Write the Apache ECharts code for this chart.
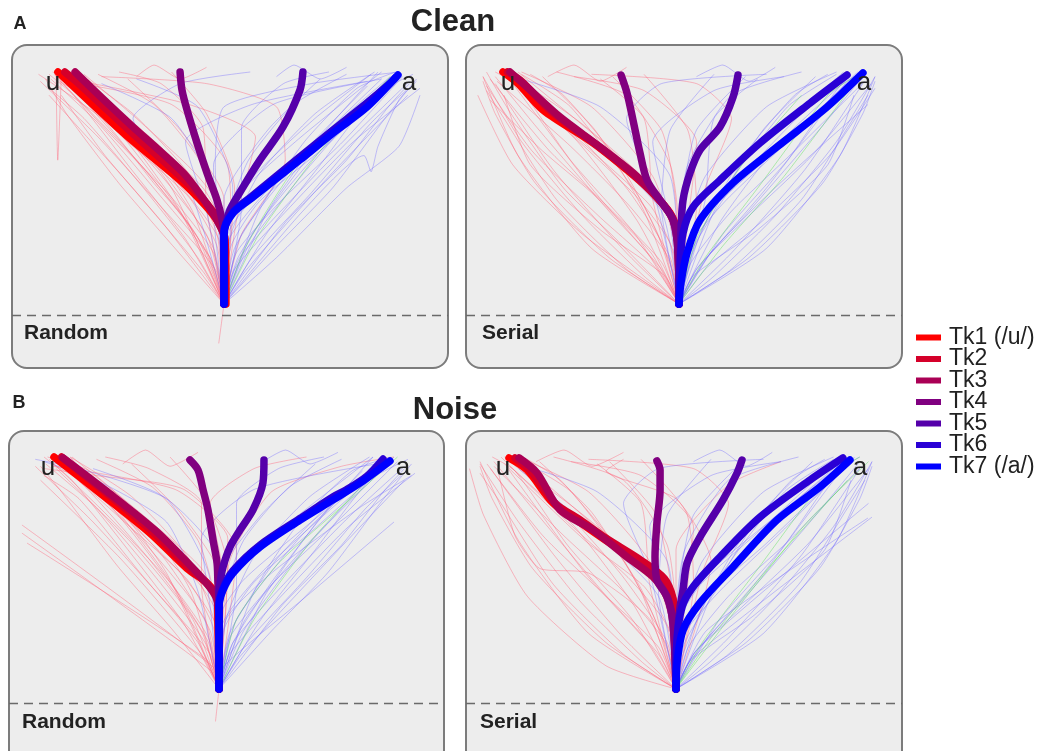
<!DOCTYPE html>
<html>
<head>
<meta charset="utf-8">
<script src="https://cdn.jsdelivr.net/npm/echarts@6/dist/echarts.min.js"></script>
<style>
  html, body { margin: 0; padding: 0; background: #ffffff; }
  #chart { width: 1037px; height: 751px; }
</style>
</head>
<body>
<div id="chart"></div>
<script>
// ---- labels ----
const tokenNames = ['Tk1 (/u/)', 'Tk2', 'Tk3', 'Tk4', 'Tk5', 'Tk6', 'Tk7 (/a/)'];
const tokenColors = ['#ff0000', '#d5002a', '#aa0055', '#800080', '#5500aa', '#2a00d5', '#0000ff'];
const blockTitles = ['Clean', 'Noise'];
const blockLetters = ['A', 'B'];
const conditionNames = ['Random', 'Serial', 'Random', 'Serial'];
const targetLabels = ['u', 'a'];

// ---- mean trajectories per token (x: -1 = /u/, +1 = /a/; y: 0 = start, 1 = target height) ----
const cleanRandomMeans = [
  [[0.011,0],[0.006,0.276],[-0.034,0.353],[-0.109,0.427],[-0.251,0.534],[-0.56,0.728],[-0.851,0.931],[-0.949,1.0]],
  [[0.006,0],[0.003,0.29],[-0.03,0.36],[-0.1,0.435],[-0.235,0.54],[-0.53,0.74],[-0.83,0.95],[-0.91,1.0]],
  [[0,0],[0,0.29],[-0.011,0.319],[-0.063,0.392],[-0.211,0.547],[-0.36,0.655],[-0.52,0.763],[-0.7,0.89],[-0.851,1.0]],
  [[0,0],[0,0.297],[-0.011,0.362],[-0.04,0.448],[-0.097,0.565],[-0.154,0.694],[-0.211,0.836],[-0.24,0.922],[-0.251,1.0]],
  [[0,0],[0,0.3],[0.006,0.332],[0.034,0.405],[0.109,0.504],[0.206,0.621],[0.337,0.763],[0.434,0.922],[0.451,1.0]],
  [[0,0],[0,0.31],[0.05,0.395],[0.165,0.468],[0.43,0.632],[0.62,0.748],[0.81,0.862],[0.95,0.952],[0.98,0.975]],
  [[0,0],[0,0.306],[0.051,0.392],[0.166,0.461],[0.434,0.621],[0.623,0.737],[0.817,0.849],[0.994,0.987]]
];
const cleanSerialMeans = [
  [[0,0],[-0.011,0.306],[-0.051,0.392],[-0.166,0.491],[-0.297,0.578],[-0.491,0.694],[-0.777,0.836],[-0.92,0.95],[-1.006,1.0]],
  [[0,0],[-0.008,0.28],[-0.045,0.38],[-0.14,0.47],[-0.28,0.57],[-0.47,0.685],[-0.73,0.83],[-0.9,0.96],[-0.98,1.0]],
  [[0,0],[-0.006,0.233],[-0.034,0.362],[-0.109,0.448],[-0.263,0.565],[-0.451,0.677],[-0.68,0.806],[-0.869,0.935],[-0.966,1.0]],
  [[0,0],[-0.006,0.233],[-0.034,0.362],[-0.109,0.448],[-0.183,0.534],[-0.223,0.651],[-0.263,0.793],[-0.297,0.909],[-0.331,0.987]],
  [[0,0],[0.011,0.306],[0.023,0.448],[0.063,0.565],[0.12,0.664],[0.234,0.763],[0.309,0.892],[0.337,0.987]],
  [[0,0],[0.006,0.159],[0.023,0.306],[0.08,0.418],[0.234,0.534],[0.463,0.694],[0.749,0.866],[0.96,0.987]],
  [[0,0],[0.011,0.091],[0.046,0.22],[0.12,0.362],[0.309,0.522],[0.56,0.677],[0.846,0.849],[1.051,0.996]]
];
const noiseRandomMeans = [
  [[0,0],[-0.006,0.31],[-0.011,0.397],[-0.069,0.457],[-0.183,0.52],[-0.394,0.672],[-0.68,0.845],[-0.943,1.0]],
  [[0,0],[-0.004,0.3],[-0.01,0.39],[-0.065,0.452],[-0.175,0.525],[-0.38,0.678],[-0.66,0.855],[-0.9,1.0]],
  [[0,0],[0,0.297],[-0.011,0.384],[-0.063,0.448],[-0.166,0.534],[-0.366,0.685],[-0.651,0.858],[-0.891,0.996]],
  [[0,0],[0,0.384],[-0.006,0.457],[-0.011,0.543],[-0.034,0.642],[-0.063,0.772],[-0.091,0.858],[-0.12,0.944],[-0.166,0.987]],
  [[0,0],[0,0.4],[0.006,0.457],[0.023,0.526],[0.063,0.612],[0.12,0.685],[0.194,0.772],[0.251,0.888],[0.257,0.987]],
  [[0,0],[0,0.36],[0.023,0.435],[0.08,0.51],[0.234,0.62],[0.463,0.735],[0.651,0.828],[0.731,0.86],[0.846,0.918],[0.937,0.991]],
  [[0,0],[0,0.353],[0.023,0.427],[0.08,0.5],[0.234,0.612],[0.463,0.728],[0.651,0.815],[0.806,0.888],[0.977,0.983]]
];
const noiseSerialMeans = [
  [[0,0],[-0.006,0.284],[-0.017,0.384],[-0.074,0.47],[-0.189,0.543],[-0.377,0.629],[-0.566,0.728],[-0.703,0.802],[-0.851,0.944],[-0.954,0.996]],
  [[0,0],[-0.006,0.284],[-0.017,0.39],[-0.065,0.475],[-0.2,0.555],[-0.4,0.65],[-0.55,0.73],[-0.69,0.8],[-0.83,0.94],[-0.92,0.996]],
  [[0,0],[-0.017,0.284],[-0.051,0.397],[-0.131,0.483],[-0.28,0.569],[-0.474,0.685],[-0.663,0.772],[-0.794,0.931],[-0.897,0.996]],
  [[0,0],[-0.017,0.284],[-0.051,0.397],[-0.109,0.47],[-0.12,0.569],[-0.109,0.716],[-0.091,0.858],[-0.091,0.944],[-0.109,0.983]],
  [[0,0],[0.006,0.211],[0.023,0.353],[0.04,0.427],[0.063,0.543],[0.137,0.655],[0.269,0.815],[0.349,0.931],[0.377,0.987]],
  [[0,0],[0.006,0.211],[0.034,0.353],[0.097,0.44],[0.251,0.569],[0.48,0.741],[0.766,0.901],[0.954,0.996]],
  [[0,0],[0.006,0.112],[0.04,0.254],[0.137,0.371],[0.326,0.526],[0.577,0.728],[0.823,0.871],[0.994,0.987]]
];

// ---- individual trials (g: r = /u/-side tokens, b = /a/-side tokens, g = middle token) ----
const cleanRandomTrials = [
  {g:'r', p:[[0,0],[-0.03,-0.17]]},
  {g:'r', p:[[0,0],[-0.12,0.25],[-0.42,0.55],[-0.78,0.86],[-0.96,1.0]]},
  {g:'r', p:[[0,0],[-0.08,0.2],[-0.3,0.45],[-0.62,0.76],[-0.9,0.98]]},
  {g:'r', p:[[0,0],[-0.22,0.28],[-0.55,0.6],[-0.86,0.9],[-1.0,0.99]]},
  {g:'r', p:[[0,0],[-0.04,0.3],[-0.2,0.56],[-0.52,0.82],[-0.84,1.0]]},
  {g:'r', p:[[0,0],[-0.28,0.24],[-0.6,0.52],[-0.9,0.82],[-1.02,0.97]]},
  {g:'r', p:[[0,0],[-0.02,0.36],[-0.14,0.62],[-0.4,0.86],[-0.72,0.99]]},
  {g:'r', p:[[0,0],[0.04,0.32],[0.02,0.6],[-0.3,0.86],[-0.9,0.96]]},
  {g:'r', p:[[0,0],[-0.18,0.4],[-0.45,0.7],[-0.76,0.93],[-0.98,1.0]]},
  {g:'r', p:[[0,0],[-0.34,0.34],[-0.68,0.64],[-0.93,0.9]]},
  {g:'r', p:[[0,0],[0.08,0.4],[0.18,0.72],[-0.2,0.86],[-0.82,0.96]]},
  {g:'r', p:[[0,0],[-0.1,0.42],[-0.12,0.76],[-0.36,0.95],[-0.6,1.0]]},
  {g:'r', p:[[0,0],[-0.3,0.5],[-0.62,0.8],[-0.94,0.96]]},
  {g:'r', p:[[-0.96,1.0],[-0.95,0.62],[-0.93,0.98]]},
  {g:'r', p:[[0,0],[0.1,0.3],[0.35,0.62],[0.3,0.85],[-0.1,0.95],[-0.7,0.98]]},
  {g:'r', p:[[0,0],[-0.05,0.15],[-0.36,0.42],[-0.72,0.72],[-1.05,0.96]]},
  {g:'r', p:[[0,0],[-0.15,0.2],[-0.46,0.5],[-0.8,0.8],[-1.0,0.93]]},
  {g:'r', p:[[0,0],[-0.1,0.3],[-0.48,0.66],[-0.88,0.97]]},
  {g:'r', p:[[0,0],[-0.16,0.3],[-0.5,0.62],[-0.92,0.95]]},
  {g:'r', p:[[0,0],[-0.06,0.24],[-0.34,0.56],[-0.8,0.94]]},
  {g:'r', p:[[0,0],[-0.25,0.4],[-0.55,0.72],[-0.86,1.0]]},
  {g:'r', p:[[0,0],[0.0,0.45],[-0.25,0.75],[-0.55,0.97]]},
  {g:'r', p:[[0,0],[-0.12,0.14],[-0.58,0.55],[-1.0,0.9]]},
  {g:'r', p:[[-0.5,0.98],[-0.4,1.03],[-0.25,0.97],[-0.1,1.02]]},
  {g:'r', p:[[0,0],[0.06,0.5],[-0.1,0.82],[-0.3,1.0]]},
  {g:'r', p:[[0,0],[-0.2,0.34],[-0.4,0.52],[-0.7,0.8],[-1.06,0.99]]},
  {g:'r', p:[[0,0],[-0.04,0.25],[-0.2,0.46],[-0.58,0.72],[-0.93,0.98]]},
  {g:'r', p:[[0,0],[-0.02,0.3],[-0.14,0.45],[-0.5,0.7],[-0.9,0.97]]},
  {g:'r', p:[[0,0],[-0.06,0.22],[-0.3,0.46],[-0.66,0.74],[-0.97,0.99]]},
  {g:'r', p:[[0,0],[-0.01,0.34],[-0.12,0.5],[-0.44,0.73],[-0.86,1.0]]},
  {g:'r', p:[[0,0],[-0.08,0.2],[-0.38,0.48],[-0.72,0.78],[-0.99,0.97]]},
  {g:'r', p:[[0,0],[-0.03,0.28],[-0.24,0.5],[-0.6,0.76],[-0.92,1.0]]},
  {g:'r', p:[[0,0],[0.0,0.38],[-0.16,0.56],[-0.5,0.8],[-0.8,0.99]]},
  {g:'b', p:[[0,0],[0.14,0.25],[0.44,0.55],[0.8,0.86],[1.0,1.0]]},
  {g:'b', p:[[0,0],[0.08,0.2],[0.3,0.45],[0.62,0.76],[0.95,0.98]]},
  {g:'b', p:[[0,0],[0.24,0.3],[0.55,0.6],[0.86,0.9],[1.08,0.99]]},
  {g:'b', p:[[0,0],[0.04,0.3],[0.2,0.56],[0.52,0.82],[0.86,1.0]]},
  {g:'b', p:[[0,0],[0.3,0.25],[0.62,0.5],[0.92,0.8],[1.1,0.97]]},
  {g:'b', p:[[0,0],[0.02,0.36],[0.14,0.62],[0.4,0.86],[0.7,0.99]]},
  {g:'b', p:[[0,0],[-0.05,0.3],[-0.06,0.6],[0.28,0.86],[0.9,0.97]]},
  {g:'b', p:[[0,0],[0.2,0.4],[0.46,0.7],[0.76,0.93],[0.98,1.0]]},
  {g:'b', p:[[0,0],[0.36,0.36],[0.7,0.62],[0.95,0.86],[1.06,0.95]]},
  {g:'b', p:[[0,0],[-0.1,0.4],[-0.22,0.7],[0.16,0.86],[0.82,0.96]]},
  {g:'b', p:[[0,0],[0.1,0.42],[0.1,0.76],[0.34,0.95],[0.6,1.0]]},
  {g:'b', p:[[0,0],[0.45,0.4],[0.8,0.64],[0.84,0.57],[0.88,0.68],[1.0,0.88],[1.1,0.96]]},
  {g:'b', p:[[0,0],[-0.2,0.5],[-0.52,0.8],[-0.25,0.95],[0.15,1.0]]},
  {g:'b', p:[[0,0],[0.05,0.5],[-0.15,0.85],[-0.5,0.97]]},
  {g:'b', p:[[0,0],[0.06,0.15],[0.38,0.42],[0.74,0.7],[1.12,0.93]]},
  {g:'b', p:[[0,0],[0.16,0.2],[0.5,0.48],[0.84,0.78],[1.04,0.92]]},
  {g:'b', p:[[0,0],[0.1,0.3],[0.48,0.66],[0.9,0.97]]},
  {g:'b', p:[[0,0],[0.16,0.3],[0.5,0.62],[0.94,0.95]]},
  {g:'b', p:[[0,0],[0.06,0.24],[0.34,0.56],[0.82,0.94]]},
  {g:'b', p:[[0,0],[0.25,0.4],[0.55,0.72],[0.88,1.0]]},
  {g:'b', p:[[0,0],[0.0,0.45],[0.25,0.75],[0.55,0.97]]},
  {g:'b', p:[[0,0],[0.12,0.14],[0.6,0.55],[1.05,0.9]]},
  {g:'b', p:[[0.3,0.98],[0.4,1.03],[0.55,0.97],[0.7,1.02]]},
  {g:'b', p:[[0,0],[-0.06,0.5],[-0.3,0.8],[-0.7,0.95]]},
  {g:'b', p:[[0,0],[0.3,0.2],[0.7,0.5],[1.0,0.68],[1.12,0.9]]},
  {g:'b', p:[[0,0],[-0.05,0.6],[0.0,0.85],[0.5,0.95],[1.0,1.0]]},
  {g:'b', p:[[0,0],[0.04,0.25],[0.2,0.44],[0.58,0.68],[0.98,0.97]]},
  {g:'b', p:[[0,0],[0.02,0.3],[0.16,0.45],[0.5,0.67],[0.95,0.96]]},
  {g:'b', p:[[0,0],[0.07,0.22],[0.32,0.44],[0.68,0.7],[1.02,0.98]]},
  {g:'b', p:[[0,0],[0.01,0.34],[0.12,0.5],[0.44,0.72],[0.9,1.0]]},
  {g:'b', p:[[0,0],[0.09,0.2],[0.4,0.46],[0.76,0.74],[1.06,0.96]]},
  {g:'b', p:[[0,0],[0.03,0.28],[0.26,0.5],[0.62,0.74],[0.97,0.99]]},
  {g:'b', p:[[0,0],[0.0,0.38],[0.18,0.56],[0.52,0.8],[0.84,0.99]]},
  {g:'g', p:[[0,0],[0.2,0.3],[0.55,0.66],[0.95,0.98]]},
  {g:'g', p:[[0,0],[0.12,0.24],[0.42,0.6],[1.0,1.0]]}
];
const cleanSerialTrials = [
  {g:'r', p:[[0,0],[-0.1,0.15],[-0.4,0.4],[-0.8,0.75],[-1.05,0.98]]},
  {g:'r', p:[[0,0],[-0.2,0.12],[-0.55,0.38],[-0.9,0.7],[-1.12,0.98]]},
  {g:'r', p:[[0,0],[-0.05,0.2],[-0.3,0.5],[-0.7,0.82],[-0.98,1.0]]},
  {g:'r', p:[[0,0],[-0.3,0.15],[-0.7,0.45],[-1.0,0.8],[-1.1,0.92]]},
  {g:'r', p:[[0,0],[-0.02,0.25],[-0.15,0.55],[-0.5,0.85],[-0.9,1.0]]},
  {g:'r', p:[[0,0],[-0.12,0.3],[-0.35,0.62],[-0.66,0.9],[-0.85,0.99]]},
  {g:'r', p:[[0,0],[0.0,0.3],[-0.05,0.6],[-0.3,0.9],[-0.7,1.0]]},
  {g:'r', p:[[0,0],[0.05,0.35],[0.1,0.7],[-0.2,0.92],[-0.6,0.98]]},
  {g:'r', p:[[0,0],[-0.4,0.2],[-0.82,0.52],[-1.05,0.82],[-1.12,0.96]]},
  {g:'r', p:[[0,0],[-0.08,0.12],[-0.45,0.32],[-0.85,0.6],[-1.0,0.9]]},
  {g:'r', p:[[0,0],[0.15,0.5],[0.3,0.8],[0.1,0.95],[-0.5,0.99]]},
  {g:'r', p:[[0,0],[-0.15,0.45],[-0.2,0.8],[-0.45,0.97]]},
  {g:'r', p:[[0,0],[-0.25,0.3],[-0.62,0.62],[-0.92,0.94],[-1.05,1.0]]},
  {g:'r', p:[[0,0],[-0.55,0.3],[-0.95,0.6],[-1.15,0.9]]},
  {g:'r', p:[[0,0],[-0.06,0.1],[-0.24,0.36],[-0.58,0.7],[-0.95,0.96]]},
  {g:'r', p:[[0,0],[-0.16,0.22],[-0.5,0.48],[-0.78,0.66],[-1.08,0.88]]},
  {g:'r', p:[[0,0],[-0.14,0.18],[-0.5,0.5],[-0.95,0.95]]},
  {g:'r', p:[[0,0],[-0.3,0.22],[-0.72,0.58],[-1.05,0.95]]},
  {g:'r', p:[[0,0],[-0.04,0.15],[-0.22,0.45],[-0.62,0.85],[-0.9,0.99]]},
  {g:'r', p:[[0,0],[-0.2,0.4],[-0.48,0.75],[-0.78,0.98]]},
  {g:'r', p:[[0,0],[-0.02,0.45],[-0.1,0.75],[-0.38,0.98]]},
  {g:'r', p:[[0,0],[-0.5,0.24],[-0.92,0.64],[-1.12,0.98]]},
  {g:'r', p:[[-0.75,0.98],[-0.6,1.03],[-0.45,0.96],[-0.3,1.02]]},
  {g:'r', p:[[0,0],[0.1,0.42],[0.05,0.75],[-0.2,0.99]]},
  {g:'r', p:[[0,0],[-0.36,0.28],[-0.66,0.5],[-0.96,0.82],[-1.1,1.0]]},
  {g:'r', p:[[0,0],[-0.03,0.22],[-0.16,0.42],[-0.5,0.66],[-0.98,0.98]]},
  {g:'r', p:[[0,0],[-0.06,0.2],[-0.28,0.42],[-0.62,0.68],[-1.04,0.96]]},
  {g:'r', p:[[0,0],[-0.01,0.3],[-0.12,0.46],[-0.44,0.7],[-0.92,1.0]]},
  {g:'r', p:[[0,0],[-0.1,0.18],[-0.38,0.4],[-0.74,0.66],[-1.08,0.97]]},
  {g:'r', p:[[0,0],[-0.02,0.34],[-0.2,0.54],[-0.56,0.78],[-0.96,0.99]]},
  {g:'r', p:[[0,0],[-0.05,0.26],[-0.24,0.46],[-0.6,0.72],[-1.0,1.0]]},
  {g:'r', p:[[0,0],[-0.14,0.16],[-0.46,0.38],[-0.84,0.66],[-1.1,0.94]]},
  {g:'b', p:[[0,0],[0.1,0.15],[0.4,0.4],[0.8,0.75],[1.05,0.98]]},
  {g:'b', p:[[0,0],[0.2,0.12],[0.55,0.38],[0.9,0.7],[1.12,0.98]]},
  {g:'b', p:[[0,0],[0.05,0.2],[0.3,0.5],[0.7,0.82],[0.98,1.0]]},
  {g:'b', p:[[0,0],[0.3,0.15],[0.7,0.45],[0.98,0.78],[1.08,0.9]]},
  {g:'b', p:[[0,0],[0.02,0.25],[0.15,0.55],[0.5,0.85],[0.9,1.0]]},
  {g:'b', p:[[0,0],[0.12,0.3],[0.35,0.62],[0.66,0.9],[0.85,0.99]]},
  {g:'b', p:[[0,0],[0.0,0.3],[0.05,0.6],[0.3,0.9],[0.7,1.0]]},
  {g:'b', p:[[0,0],[-0.05,0.35],[-0.15,0.7],[0.2,0.92],[0.6,0.98]]},
  {g:'b', p:[[0,0],[0.4,0.2],[0.82,0.52],[1.05,0.82],[1.12,0.96]]},
  {g:'b', p:[[0,0],[0.08,0.12],[0.45,0.32],[0.85,0.6],[1.0,0.9]]},
  {g:'b', p:[[0,0],[-0.15,0.5],[-0.3,0.8],[-0.1,0.95],[0.5,0.99]]},
  {g:'b', p:[[0,0],[0.15,0.45],[0.2,0.8],[0.45,0.97]]},
  {g:'b', p:[[0,0],[0.25,0.3],[0.62,0.62],[0.92,0.94],[1.05,1.0]]},
  {g:'b', p:[[0,0],[-0.1,0.4],[-0.5,0.7],[-0.9,0.95]]},
  {g:'b', p:[[0,0],[0.06,0.1],[0.24,0.36],[0.58,0.7],[0.95,0.96]]},
  {g:'b', p:[[0,0],[0.18,0.22],[0.52,0.48],[0.84,0.7],[1.08,0.86]]},
  {g:'b', p:[[0,0],[0.14,0.18],[0.5,0.5],[0.95,0.95]]},
  {g:'b', p:[[0,0],[0.3,0.22],[0.72,0.58],[1.05,0.95]]},
  {g:'b', p:[[0,0],[0.04,0.15],[0.22,0.45],[0.62,0.85],[0.9,0.99]]},
  {g:'b', p:[[0,0],[0.2,0.4],[0.48,0.75],[0.78,0.98]]},
  {g:'b', p:[[0,0],[0.02,0.45],[0.1,0.75],[0.38,0.98]]},
  {g:'b', p:[[0,0],[0.5,0.24],[0.92,0.64],[1.12,0.98]]},
  {g:'b', p:[[0.1,0.98],[0.25,1.03],[0.4,0.96],[0.55,1.02]]},
  {g:'b', p:[[0,0],[-0.1,0.42],[-0.05,0.75],[0.2,0.99]]},
  {g:'b', p:[[0,0],[-0.05,0.55],[-0.45,0.85],[-0.95,0.98]]},
  {g:'b', p:[[0,0],[0.03,0.2],[0.18,0.4],[0.52,0.64],[1.0,0.98]]},
  {g:'b', p:[[0,0],[0.07,0.18],[0.3,0.4],[0.66,0.66],[1.06,0.96]]},
  {g:'b', p:[[0,0],[0.01,0.28],[0.14,0.46],[0.46,0.68],[0.94,1.0]]},
  {g:'b', p:[[0,0],[0.11,0.16],[0.4,0.38],[0.76,0.64],[1.1,0.95]]},
  {g:'b', p:[[0,0],[0.02,0.32],[0.2,0.52],[0.58,0.76],[0.98,0.99]]},
  {g:'b', p:[[0,0],[0.05,0.24],[0.26,0.44],[0.62,0.7],[1.02,1.0]]},
  {g:'b', p:[[0,0],[0.15,0.15],[0.48,0.36],[0.86,0.64],[1.12,0.93]]},
  {g:'g', p:[[0,0],[0.25,0.25],[0.6,0.55],[1.0,0.95]]},
  {g:'g', p:[[0,0],[0.15,0.2],[0.45,0.5],[0.85,0.9],[1.05,1.0]]},
  {g:'g', p:[[0,0],[0.1,0.28],[0.36,0.6],[0.7,0.9]]}
];
const noiseRandomTrials = [
  {g:'r', p:[[0,0],[-0.02,-0.14]]},
  {g:'r', p:[[0,0],[-0.1,0.25],[-0.4,0.56],[-0.75,0.86],[-0.96,1.0]]},
  {g:'r', p:[[0,0],[-0.06,0.2],[-0.28,0.46],[-0.6,0.77],[-0.92,0.99]]},
  {g:'r', p:[[0,0],[-0.2,0.28],[-0.52,0.6],[-0.84,0.9],[-1.0,1.0]]},
  {g:'r', p:[[0,0],[-0.03,0.3],[-0.18,0.57],[-0.5,0.83],[-0.85,1.0]]},
  {g:'r', p:[[0,0],[-0.26,0.25],[-0.58,0.53],[-0.9,0.85],[-1.02,0.96]]},
  {g:'r', p:[[0,0],[-0.02,0.38],[-0.12,0.64],[-0.38,0.87],[-0.7,0.99]]},
  {g:'r', p:[[0,0],[0.04,0.35],[0.05,0.65],[-0.25,0.86],[-0.95,0.96]]},
  {g:'r', p:[[0,0],[-0.16,0.42],[-0.42,0.72],[-0.74,0.94],[-0.98,1.0]]},
  {g:'r', p:[[0,0],[0.02,0.5],[-0.05,0.8],[0.2,0.95],[0.5,1.0]]},
  {g:'r', p:[[0,0],[-0.1,0.45],[-0.1,0.8],[-0.4,0.95],[-0.65,1.0]]},
  {g:'r', p:[[0,0],[-0.3,0.5],[-0.6,0.8],[-0.95,0.97]]},
  {g:'r', p:[[0,0],[-0.05,0.15],[-0.36,0.42],[-0.72,0.72],[-1.05,0.96]]},
  {g:'r', p:[[0,0],[0.1,0.6],[-0.2,0.86],[-0.7,0.92],[-1.0,0.95]]},
  {g:'r', p:[[0,0],[-0.034,0.095],[-1.126,0.707]]},
  {g:'r', p:[[0,0],[-0.051,0.082],[-1.126,0.672]]},
  {g:'r', p:[[0,0],[-0.069,0.125],[-1.097,0.629]]},
  {g:'r', p:[[0,0],[-0.12,0.2],[-0.45,0.5],[-0.8,0.82],[-1.0,0.92]]},
  {g:'r', p:[[0,0],[-0.08,0.3],[-0.46,0.66],[-0.86,0.97]]},
  {g:'r', p:[[0,0],[-0.15,0.3],[-0.5,0.63],[-0.93,0.95]]},
  {g:'r', p:[[0,0],[-0.05,0.25],[-0.32,0.57],[-0.78,0.94]]},
  {g:'r', p:[[0,0],[-0.24,0.42],[-0.54,0.73],[-0.85,1.0]]},
  {g:'r', p:[[0,0],[0.02,0.46],[-0.22,0.76],[-0.5,0.97]]},
  {g:'r', p:[[0,0],[-0.1,0.15],[-0.56,0.56],[-1.02,0.9]]},
  {g:'r', p:[[-0.55,0.97],[-0.42,1.03],[-0.28,0.96],[-0.12,1.02]]},
  {g:'r', p:[[0,0],[0.05,0.52],[-0.08,0.82],[-0.28,1.0]]},
  {g:'r', p:[[0,0],[0.06,0.55],[0.3,0.85],[0.7,0.96],[1.0,1.0]]},
  {g:'r', p:[[0,0],[-0.03,0.26],[-0.18,0.47],[-0.54,0.72],[-0.92,0.98]]},
  {g:'r', p:[[0,0],[-0.01,0.32],[-0.12,0.46],[-0.46,0.7],[-0.88,0.97]]},
  {g:'r', p:[[0,0],[-0.06,0.22],[-0.28,0.46],[-0.64,0.75],[-0.97,0.99]]},
  {g:'r', p:[[0,0],[-0.01,0.36],[-0.1,0.52],[-0.42,0.74],[-0.84,1.0]]},
  {g:'r', p:[[0,0],[-0.08,0.2],[-0.36,0.48],[-0.7,0.78],[-0.99,0.97]]},
  {g:'r', p:[[0,0],[-0.02,0.28],[-0.22,0.5],[-0.58,0.77],[-0.9,1.0]]},
  {g:'b', p:[[0,0],[0.14,0.25],[0.44,0.56],[0.8,0.86],[1.0,1.0]]},
  {g:'b', p:[[0,0],[0.08,0.2],[0.3,0.46],[0.62,0.77],[0.95,0.99]]},
  {g:'b', p:[[0,0],[0.24,0.3],[0.55,0.6],[0.86,0.9],[1.08,0.99]]},
  {g:'b', p:[[0,0],[0.04,0.3],[0.2,0.57],[0.52,0.83],[0.86,1.0]]},
  {g:'b', p:[[0,0],[0.3,0.25],[0.62,0.5],[0.92,0.8],[1.1,0.97]]},
  {g:'b', p:[[0,0],[0.02,0.38],[0.14,0.64],[0.4,0.87],[0.7,0.99]]},
  {g:'b', p:[[0,0],[-0.05,0.35],[-0.1,0.65],[0.2,0.86],[0.9,0.97]]},
  {g:'b', p:[[0,0],[0.2,0.42],[0.46,0.72],[0.76,0.94],[0.98,1.0]]},
  {g:'b', p:[[0,0],[0.36,0.36],[0.7,0.62],[0.95,0.86],[1.06,0.95]]},
  {g:'b', p:[[0,0],[-0.12,0.42],[-0.3,0.72],[-0.7,0.9],[-1.0,0.98]]},
  {g:'b', p:[[0,0],[0.1,0.45],[0.1,0.8],[0.34,0.95],[0.6,1.0]]},
  {g:'b', p:[[0,0],[0.06,0.15],[0.38,0.42],[0.74,0.7],[1.12,0.93]]},
  {g:'b', p:[[0,0],[0.03,0.1],[0.5,0.4],[1.0,0.72]]},
  {g:'b', p:[[0,0],[0.0,0.55],[-0.3,0.82],[-0.8,0.95],[-1.05,0.99]]},
  {g:'b', p:[[0,0],[0.16,0.2],[0.5,0.48],[0.84,0.78],[1.04,0.92]]},
  {g:'b', p:[[0,0],[0.1,0.3],[0.47,0.66],[0.9,0.97]]},
  {g:'b', p:[[0,0],[0.15,0.3],[0.5,0.62],[0.94,0.95]]},
  {g:'b', p:[[0,0],[0.06,0.24],[0.33,0.56],[0.82,0.94]]},
  {g:'b', p:[[0,0],[0.26,0.4],[0.56,0.72],[0.88,1.0]]},
  {g:'b', p:[[0,0],[-0.02,0.45],[0.24,0.75],[0.55,0.97]]},
  {g:'b', p:[[0,0],[0.12,0.14],[0.62,0.55],[1.06,0.9]]},
  {g:'b', p:[[0.25,0.98],[0.38,1.03],[0.52,0.97],[0.68,1.02]]},
  {g:'b', p:[[0,0],[-0.06,0.5],[-0.3,0.82],[-0.72,0.95]]},
  {g:'b', p:[[0,0],[0.04,0.3],[0.3,0.5],[0.8,0.78],[1.1,0.92]]},
  {g:'b', p:[[0,0],[0.03,0.26],[0.2,0.46],[0.56,0.7],[0.96,0.97]]},
  {g:'b', p:[[0,0],[0.01,0.32],[0.14,0.47],[0.48,0.69],[0.93,0.97]]},
  {g:'b', p:[[0,0],[0.06,0.22],[0.3,0.45],[0.66,0.71],[1.02,0.98]]},
  {g:'b', p:[[0,0],[0.01,0.36],[0.12,0.52],[0.44,0.74],[0.88,1.0]]},
  {g:'b', p:[[0,0],[0.08,0.2],[0.38,0.46],[0.74,0.74],[1.06,0.96]]},
  {g:'b', p:[[0,0],[0.02,0.28],[0.24,0.5],[0.6,0.75],[0.97,0.99]]},
  {g:'g', p:[[0,0],[0.2,0.3],[0.55,0.66],[0.95,0.98]]},
  {g:'g', p:[[0,0],[0.1,0.3],[0.35,0.55],[0.8,0.85],[1.02,1.0]]}
];
const noiseSerialTrials = [
  {g:'r', p:[[0,0],[-0.1,0.15],[-0.42,0.42],[-0.8,0.76],[-1.04,0.98]]},
  {g:'r', p:[[0,0],[-0.2,0.12],[-0.55,0.38],[-0.9,0.72],[-1.12,0.97]]},
  {g:'r', p:[[0,0],[-0.05,0.2],[-0.32,0.5],[-0.7,0.82],[-0.98,1.0]]},
  {g:'r', p:[[0,0],[-0.3,0.15],[-0.7,0.45],[-1.0,0.8],[-1.12,0.93]]},
  {g:'r', p:[[0,0],[-0.02,0.25],[-0.15,0.55],[-0.5,0.85],[-0.9,1.0]]},
  {g:'r', p:[[0,0],[-0.12,0.3],[-0.35,0.62],[-0.66,0.9],[-0.85,0.99]]},
  {g:'r', p:[[0,0],[0.0,0.3],[-0.05,0.62],[-0.3,0.9],[-0.7,1.0]]},
  {g:'r', p:[[0,0],[0.05,0.35],[0.1,0.7],[-0.2,0.92],[-0.6,0.98]]},
  {g:'r', p:[[0,0],[-0.4,0.2],[-0.82,0.52],[-1.05,0.82],[-1.12,0.96]]},
  {g:'r', p:[[0,0],[0.15,0.5],[0.3,0.8],[0.1,0.95],[-0.5,0.99]]},
  {g:'r', p:[[0,0],[-0.15,0.45],[-0.2,0.8],[-0.45,0.97]]},
  {g:'r', p:[[0,0],[-0.25,0.3],[-0.62,0.62],[-0.92,0.94],[-1.05,1.0]]},
  {g:'r', p:[[0,0],[-0.15,0.3],[-0.5,0.5],[-0.78,0.52],[-0.92,0.66],[-1.02,0.95]]},
  {g:'r', p:[[0,0],[-0.4,0.1],[-0.85,0.4],[-1.1,0.75],[-1.18,0.95]]},
  {g:'r', p:[[0,0],[-0.06,0.1],[-0.24,0.36],[-0.58,0.7],[-0.95,0.96]]},
  {g:'r', p:[[0,0],[0.2,0.55],[0.0,0.82],[-0.4,0.94],[-0.3,0.99]]},
  {g:'r', p:[[0,0],[-0.14,0.18],[-0.52,0.5],[-0.96,0.95]]},
  {g:'r', p:[[0,0],[-0.3,0.22],[-0.7,0.58],[-1.06,0.95]]},
  {g:'r', p:[[0,0],[-0.04,0.15],[-0.22,0.46],[-0.6,0.85],[-0.9,0.99]]},
  {g:'r', p:[[0,0],[-0.2,0.42],[-0.48,0.76],[-0.78,0.98]]},
  {g:'r', p:[[0,0],[-0.03,0.45],[-0.12,0.76],[-0.38,0.98]]},
  {g:'r', p:[[0,0],[-0.5,0.24],[-0.9,0.64],[-1.12,0.98]]},
  {g:'r', p:[[-0.8,0.98],[-0.64,1.03],[-0.48,0.96],[-0.3,1.02]]},
  {g:'r', p:[[0,0],[0.1,0.45],[0.06,0.76],[-0.2,0.99]]},
  {g:'r', p:[[0,0],[0.0,0.6],[0.3,0.88],[0.6,0.98]]},
  {g:'r', p:[[0,0],[-0.03,0.24],[-0.18,0.44],[-0.52,0.64],[-0.98,0.97]]},
  {g:'r', p:[[0,0],[-0.06,0.2],[-0.3,0.42],[-0.64,0.66],[-1.04,0.96]]},
  {g:'r', p:[[0,0],[-0.01,0.3],[-0.14,0.47],[-0.46,0.7],[-0.92,1.0]]},
  {g:'r', p:[[0,0],[-0.1,0.18],[-0.4,0.4],[-0.76,0.66],[-1.08,0.97]]},
  {g:'r', p:[[0,0],[-0.02,0.34],[-0.22,0.55],[-0.58,0.78],[-0.96,0.99]]},
  {g:'r', p:[[0,0],[-0.05,0.27],[-0.26,0.47],[-0.62,0.72],[-1.0,1.0]]},
  {g:'b', p:[[0,0],[0.1,0.15],[0.4,0.4],[0.8,0.75],[1.05,0.98]]},
  {g:'b', p:[[0,0],[0.2,0.12],[0.55,0.38],[0.9,0.7],[1.12,0.98]]},
  {g:'b', p:[[0,0],[0.05,0.2],[0.3,0.5],[0.7,0.82],[0.98,1.0]]},
  {g:'b', p:[[0,0],[0.3,0.15],[0.7,0.45],[0.98,0.78],[1.08,0.9]]},
  {g:'b', p:[[0,0],[0.02,0.25],[0.15,0.55],[0.5,0.85],[0.9,1.0]]},
  {g:'b', p:[[0,0],[0.12,0.3],[0.35,0.62],[0.66,0.9],[0.85,0.99]]},
  {g:'b', p:[[0,0],[0.0,0.3],[0.05,0.6],[0.3,0.9],[0.7,1.0]]},
  {g:'b', p:[[0,0],[-0.05,0.35],[-0.15,0.7],[0.2,0.92],[0.6,0.98]]},
  {g:'b', p:[[0,0],[0.4,0.2],[0.82,0.52],[1.05,0.82],[1.12,0.96]]},
  {g:'b', p:[[0,0],[0.08,0.12],[0.45,0.32],[0.85,0.6],[1.0,0.9]]},
  {g:'b', p:[[0,0],[-0.15,0.5],[-0.3,0.8],[-0.1,0.95],[0.5,0.99]]},
  {g:'b', p:[[0,0],[0.25,0.3],[0.62,0.62],[0.92,0.94],[1.05,1.0]]},
  {g:'b', p:[[0,0],[-0.1,0.4],[-0.5,0.7],[-0.9,0.95]]},
  {g:'b', p:[[0,0],[0.097,0.138],[1.12,0.741]]},
  {g:'b', p:[[0,0],[0.177,0.254],[1.097,0.737]]},
  {g:'b', p:[[0,0],[0.12,0.17],[1.1,0.8]]},
  {g:'b', p:[[0,0],[0.14,0.18],[0.5,0.5],[0.95,0.95]]},
  {g:'b', p:[[0,0],[0.3,0.22],[0.72,0.58],[1.05,0.95]]},
  {g:'b', p:[[0,0],[0.04,0.15],[0.22,0.45],[0.62,0.85],[0.9,0.99]]},
  {g:'b', p:[[0,0],[0.2,0.4],[0.48,0.75],[0.78,0.98]]},
  {g:'b', p:[[0,0],[0.02,0.45],[0.1,0.75],[0.38,0.98]]},
  {g:'b', p:[[0,0],[0.5,0.24],[0.92,0.64],[1.12,0.98]]},
  {g:'b', p:[[0.1,0.98],[0.25,1.03],[0.4,0.96],[0.55,1.02]]},
  {g:'b', p:[[0,0],[-0.1,0.42],[-0.05,0.75],[0.2,0.99]]},
  {g:'b', p:[[0,0],[-0.05,0.55],[-0.45,0.85],[-0.95,0.98]]},
  {g:'b', p:[[0,0],[0.03,0.2],[0.18,0.4],[0.52,0.63],[1.0,0.98]]},
  {g:'b', p:[[0,0],[0.07,0.18],[0.3,0.4],[0.66,0.65],[1.06,0.96]]},
  {g:'b', p:[[0,0],[0.01,0.28],[0.14,0.45],[0.46,0.67],[0.94,1.0]]},
  {g:'b', p:[[0,0],[0.11,0.16],[0.4,0.37],[0.76,0.63],[1.1,0.95]]},
  {g:'b', p:[[0,0],[0.02,0.32],[0.2,0.51],[0.58,0.75],[0.98,0.99]]},
  {g:'b', p:[[0,0],[0.05,0.24],[0.26,0.43],[0.62,0.69],[1.02,1.0]]},
  {g:'g', p:[[0,0],[0.3,0.3],[0.75,0.72],[1.1,0.98]]},
  {g:'g', p:[[0,0],[0.15,0.2],[0.45,0.5],[0.85,0.9],[1.05,1.0]]},
  {g:'g', p:[[0,0],[0.2,0.22],[0.56,0.55],[0.98,0.9]]}
];

// start-line level under each panel's origin
const startLineY = [-0.052, -0.052, -0.056, -0.056];

// ---- layout (pixels) ----
const W = 1037, H = 751;
const SX = 175, SY = 232;
const panels = [
  { ox: 224, oy: 304, box: [12, 45, 436, 323] },
  { ox: 679, oy: 304, box: [466, 45, 436, 323] },
  { ox: 219, oy: 689, box: [9, 431, 435, 345] },
  { ox: 676, oy: 689, box: [466, 431, 436, 345] }
];
const meanSets = [cleanRandomMeans, cleanSerialMeans, noiseRandomMeans, noiseSerialMeans];
const trialSets = [cleanRandomTrials, cleanSerialTrials, noiseRandomTrials, noiseSerialTrials];
const trialColors = { r: 'rgba(255,95,120,0.42)', b: 'rgba(115,105,255,0.40)', g: 'rgba(90,225,90,0.45)' };
const FONT = '"Liberation Sans", Arial, Helvetica, sans-serif';

const grids = [], xAxes = [], yAxes = [], series = [], graphics = [];

panels.forEach((pn, i) => {
  const [bx, by, bw, bh] = pn.box;
  graphics.push({
    type: 'rect', z: -10, silent: true,
    shape: { x: bx, y: by, width: bw, height: bh, r: 15 },
    style: { fill: '#ededed', stroke: '#7c7c7c', lineWidth: 2 }
  });
  // plotting area: the visible part of the panel
  const gh = Math.min(bh, H - by);
  grids.push({ left: bx, top: by, width: bw, height: gh, containLabel: false });
  xAxes.push({ type: 'value', gridIndex: i, min: (bx - pn.ox) / SX, max: (bx + bw - pn.ox) / SX, show: false });
  yAxes.push({ type: 'value', gridIndex: i, min: (pn.oy - by - gh) / SY, max: (pn.oy - by) / SY, show: false });

  trialSets[i].forEach(t => {
    series.push({
      type: 'line', xAxisIndex: i, yAxisIndex: i, data: t.p, smooth: 0.2,
      showSymbol: false, silent: true, z: 2,
      lineStyle: { color: trialColors[t.g], width: 1 }
    });
  });

  meanSets[i].forEach((path, k) => {
    const s = {
      type: 'line', name: tokenNames[k], xAxisIndex: i, yAxisIndex: i, data: path,
      smooth: 0.3, showSymbol: false, silent: true, z: 3 + k,
      itemStyle: { color: tokenColors[k] },
      lineStyle: { color: tokenColors[k], width: 7.5, cap: 'round', join: 'round' }
    };
    if (k === 0) {
      s.markLine = {
        silent: true, symbol: 'none', label: { show: false },
        lineStyle: { color: '#6a6a6a', width: 1.3, type: [9, 6] },
        data: [{ yAxis: startLineY[i] }]
      };
    }
    series.push(s);
  });
});

// text: block letters and titles
const labelText = (txt, x, y, size, weight, align) => ({
  type: 'text', z: 100, silent: true, x, y,
  style: { text: txt, fill: '#222222', font: `${weight} ${size}px ${FONT}`,
           textAlign: align || 'center', textVerticalAlign: 'middle' }
});
graphics.push(labelText(blockLetters[0], 20, 24, 18, 'bold'));
graphics.push(labelText(blockLetters[1], 19, 403, 18, 'bold'));
graphics.push(labelText(blockTitles[0], 453, 22, 31, 'bold'));
graphics.push(labelText(blockTitles[1], 455, 410, 31, 'bold'));

// condition names and target letters in each panel
const condPos = [[24, 333], [482, 333], [22, 722], [480, 722]];
const uPos = [[53, 83], [508, 83], [48, 468], [503, 468]];
const aPos = [[409, 83], [864, 83], [403, 468], [860, 468]];
conditionNames.forEach((c, i) => {
  graphics.push(labelText(c, condPos[i][0], condPos[i][1], 21, 'bold', 'left'));
  graphics.push(labelText(targetLabels[0], uPos[i][0], uPos[i][1], 26, 'normal'));
  graphics.push(labelText(targetLabels[1], aPos[i][0], aPos[i][1], 26, 'normal'));
});

const chart = echarts.init(document.getElementById('chart'), null, { renderer: 'canvas' });
chart.setOption({
  animation: false,
  backgroundColor: '#ffffff',
  grid: grids,
  xAxis: xAxes,
  yAxis: yAxes,
  legend: {
    data: tokenNames.map(n => ({ name: n, icon: 'rect' })),
    orient: 'vertical', left: 916, top: 326, padding: 0,
    itemWidth: 25, itemHeight: 6, itemGap: -1.5,
    selectedMode: false,
    textStyle: { fontSize: 23, lineHeight: 21, color: '#222222', fontFamily: FONT, padding: [0, 0, 0, 3] }
  },
  graphic: { elements: graphics },
  series: series
});
</script>
</body>
</html>
